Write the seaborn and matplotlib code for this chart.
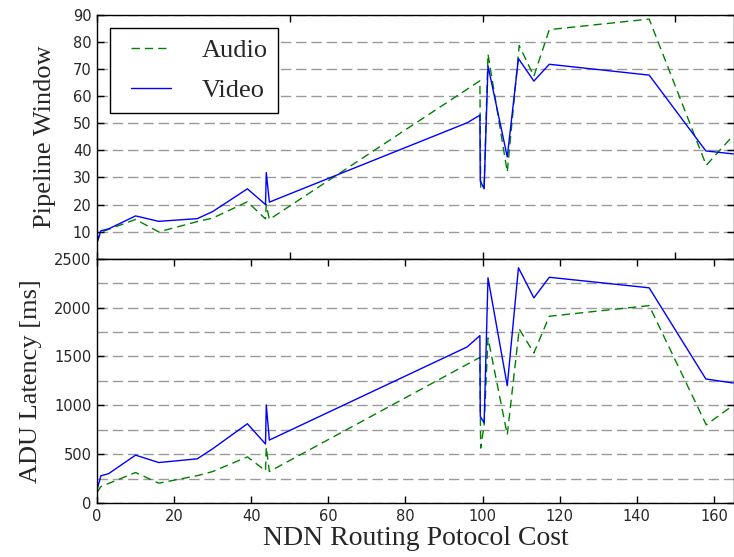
import matplotlib
matplotlib.use("Agg")
import matplotlib.pyplot as plt
import seaborn as sns
import pandas as pd
from matplotlib.ticker import MultipleLocator, FixedLocator
from matplotlib.lines import Line2D
from matplotlib.legend_handler import HandlerLine2D

# ---- data ----
x_video = [0, 1, 3, 10, 16, 26, 30, 39, 43.7, 43.9, 44.7, 96, 99.3, 99.4,
           100.4, 101.4, 106.4, 109.3, 113.3, 117.3, 143.2, 157.9, 165]
window_video = [6, 10.3, 11, 15.8, 13.8, 14.8, 17.4, 25.8, 20, 31.8, 20.9, 50.2,
                53, 28.7, 25.8, 71.2, 37.6, 73.9, 65.6, 71.8, 67.8, 39.8, 38.7]
latency_video = [134, 278, 300, 490, 414, 452, 555, 811, 604, 1003, 644, 1597,
                 1713, 886, 818, 2304, 1200, 2407, 2099, 2310, 2202, 1269, 1228]

x_audio = [0, 1, 10, 16, 26, 30, 39, 43.7, 43.9, 44.7, 99.3, 99.5, 100.4,
           101.4, 106.4, 109.5, 113.3, 117.3, 143.2, 158, 165]
window_audio = [6, 9.8, 14.5, 9.9, 13.7, 15, 21, 14.7, 20, 14.5, 65.7, 25.8, 27,
                75.6, 32, 78.7, 67.4, 84.6, 88.5, 34.5, 45.5]
latency_audio = [107, 168, 312, 203, 280, 322, 472, 330, 570, 322, 1490, 562, 800,
                 1689, 698, 1781, 1535, 1911, 2020, 800, 1000]

series_names = ["Audio", "Video"]
xlabel = "NDN Routing Potocol Cost"
ylabel_top = "Pipeline Window"
ylabel_bottom = "ADU Latency [ms]"

df_audio = pd.DataFrame({"x": x_audio, "window": window_audio, "latency": latency_audio})
df_video = pd.DataFrame({"x": x_video, "window": window_video, "latency": latency_video})

sns.set_style("white")
plt.rcParams["font.family"] = ["DejaVu Sans"]
plt.rcParams["xtick.direction"] = "in"
plt.rcParams["ytick.direction"] = "in"

serif = ["Liberation Serif", "DejaVu Serif"]

fig = plt.figure(figsize=(7.34, 5.57), dpi=100)
L, R = 97 / 734, 1.0
top_y = 1 - 15 / 557
mid_y = 1 - 258.7 / 557
bot_y = 1 - 503 / 557
ax1 = fig.add_axes([L, mid_y, R - L, top_y - mid_y])
ax2 = fig.add_axes([L, bot_y, R - L, mid_y - bot_y])

green = "#008000"
blue = "#0000ff"
dash = (0, (6, 3.6))

for ax, col in ((ax1, "window"), (ax2, "latency")):
    sns.lineplot(data=df_audio, x="x", y=col, ax=ax, color=green, linewidth=1,
                 linestyle="--", dashes=False, estimator=None, label=series_names[0])
    sns.lineplot(data=df_video, x="x", y=col, ax=ax, color=blue, linewidth=1,
                 estimator=None, label=series_names[1])
    ax.lines[0].set_linestyle(dash)
    ax.set_xlim(0, 165.2)
    ax.set_xlabel("")
    ax.set_ylabel("")
    for s in ax.spines.values():
        s.set_color("black")
        s.set_linewidth(1)
    ax.tick_params(axis="both", which="both", direction="in", top=True, right=True,
                   bottom=True, left=True, length=5, width=1, color="black",
                   labelsize=10.5, pad=4)
    ax.yaxis.grid(True, which="both", color="#9a9a9a", linestyle=(0, (7.5, 3.5)),
                  linewidth=1)
    ax.xaxis.grid(False)
    ax.set_axisbelow(True)

# top panel
ax1.set_ylim(0, 90)
ax1.yaxis.set_major_locator(FixedLocator([10, 20, 30, 40, 50, 60, 70, 80, 90]))
ax1.xaxis.set_major_locator(MultipleLocator(50))
ax1.tick_params(labelbottom=False)
ax1.set_ylabel(ylabel_top, family=serif, fontsize=19, labelpad=12)
leg = ax1.legend(loc="upper left", prop={"family": serif, "size": 19},
                 frameon=True, fancybox=False, edgecolor="black", framealpha=1,
                 handlelength=1.93, handletextpad=1.15, borderaxespad=0.5,
                 borderpad=0.39, labelspacing=0.64,
                 handler_map={Line2D: HandlerLine2D(xpad=0.38)})
leg.get_frame().set_linewidth(1)

# bottom panel
ax2.set_ylim(0, 2500)
ax2.yaxis.set_major_locator(MultipleLocator(500))
ax2.yaxis.set_minor_locator(MultipleLocator(250))
ax2.tick_params(which="minor", length=0)
ax2.xaxis.set_major_locator(MultipleLocator(20))
ax2.set_ylabel(ylabel_bottom, family=serif, fontsize=19, labelpad=8.5)
ax2.set_xlabel(xlabel, family=serif, fontsize=20, labelpad=2)
if ax2.get_legend():
    ax2.get_legend().remove()

fig.savefig("out.png", dpi=100)
